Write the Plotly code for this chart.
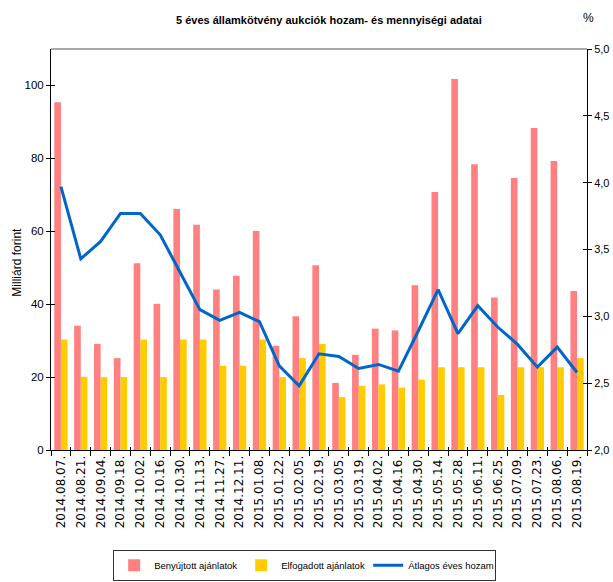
import plotly.graph_objects as go

dates = ["2014.08.07.", "2014.08.21.", "2014.09.04.", "2014.09.18.", "2014.10.02.",
         "2014.10.16.", "2014.10.30.", "2014.11.13.", "2014.11.27.", "2014.12.11.",
         "2015.01.08.", "2015.01.22.", "2015.02.05.", "2015.02.19.", "2015.03.05.",
         "2015.03.19.", "2015.04.02.", "2015.04.16.", "2015.04.30.", "2015.05.14.",
         "2015.05.28.", "2015.06.11.", "2015.06.25.", "2015.07.09.", "2015.07.23.",
         "2015.08.06.", "2015.08.19."]

benyujtott = [95.4, 34.1, 29.1, 25.2, 51.2, 40.1, 66.1, 61.8, 44.0, 47.8,
              60.1, 28.6, 36.7, 50.7, 18.4, 26.1, 33.3, 32.8, 45.2, 70.8,
              101.8, 78.4, 41.8, 74.6, 88.3, 79.3, 43.6]

elfogadott = [30.3, 20.1, 20.0, 20.0, 30.3, 20.0, 30.3, 30.3, 23.1, 23.1,
              30.3, 20.0, 25.2, 29.1, 14.5, 17.6, 18.0, 17.1, 19.3, 22.7,
              22.7, 22.7, 15.1, 22.7, 22.7, 22.7, 25.2]

hozam = [3.97, 3.43, 3.56, 3.77, 3.77, 3.61, 3.33, 3.05, 2.97, 3.03,
         2.96, 2.63, 2.48, 2.72, 2.70, 2.61, 2.64, 2.59, 2.89, 3.20,
         2.87, 3.08, 2.92, 2.79, 2.62, 2.77, 2.58]

regular = "Liberation Sans, Arial, sans-serif"
blank = [None] * len(dates)

fig = go.Figure()
fig.add_trace(go.Bar(x=dates, y=benyujtott, name="Benyújtott ajánlatok",
                     marker=dict(color="#FF8080", line=dict(width=0))))
fig.add_trace(go.Bar(x=dates, y=elfogadott, name="Elfogadott ajánlatok",
                     marker=dict(color="#FFCC00", line=dict(width=0))))
fig.add_trace(go.Scatter(x=dates, y=hozam, name="Átlagos éves hozam", yaxis="y2",
                         mode="lines", line=dict(color="#0066CC", width=3)))
# invisible helpers so that the inner half of the crossing ticks is drawn
fig.add_trace(go.Scatter(x=dates, y=blank, xaxis="x2", yaxis="y3", showlegend=False,
                         hoverinfo="skip", mode="lines"))
fig.add_trace(go.Scatter(x=dates, y=blank, xaxis="x2", yaxis="y4", showlegend=False,
                         hoverinfo="skip", mode="lines"))

fig.update_layout(
    width=613, height=582,
    margin=dict(l=51, r=26, t=49, b=132, autoexpand=False),
    paper_bgcolor="white", plot_bgcolor="white",
    separators=", ",
    barmode="group", bargap=0.33, bargroupgap=0,
    showlegend=True,
    legend=dict(orientation="h", x=0.116, y=-0.249, xanchor="left", yanchor="top",
                bordercolor="#333333", borderwidth=1, bgcolor="white",
                font=dict(family=regular, size=9.5, color="#000000"),
                entrywidth=82, entrywidthmode="pixels", traceorder="normal"),
    xaxis=dict(type="category", showline=True, linecolor="black", linewidth=1,
               ticks="outside", ticklen=5, tickcolor="black", tickson="boundaries",
               tickangle=-90, automargin=False,
               tickfont=dict(family="DejaVu Sans, sans-serif", size=12, color="#000000"),
               showgrid=False, zeroline=False),
    xaxis2=dict(type="category", overlaying="x", anchor="y", side="bottom",
                categoryorder="array", categoryarray=dates, range=[-0.5, len(dates) - 0.5],
                ticks="inside", ticklen=3, tickcolor="black", tickson="boundaries",
                showticklabels=False, showline=False, showgrid=False, zeroline=False,
                automargin=False),
    yaxis=dict(range=[0, 110], dtick=20, showline=True, linecolor="black", linewidth=1,
               ticks="outside", ticklen=4, tickcolor="black", showgrid=False, zeroline=False,
               automargin=False,
               tickfont=dict(family=regular, size=11.5, color="#000000")),
    yaxis2=dict(range=[2, 5], dtick=0.5, tickformat=".1f", overlaying="y", side="right",
                showline=True, linecolor="black", linewidth=1, ticks="outside", ticklen=4,
                tickcolor="black", showgrid=False, zeroline=False, automargin=False,
                tickfont=dict(family=regular, size=11, color="#000000")),
    yaxis3=dict(range=[0, 110], dtick=20, overlaying="y", side="left", anchor="x2",
                ticks="inside", ticklen=4, tickcolor="black", showticklabels=False,
                showline=False, showgrid=False, zeroline=False, automargin=False),
    yaxis4=dict(range=[2, 5], dtick=0.5, overlaying="y", side="right", anchor="x2",
                ticks="inside", ticklen=4, tickcolor="black", showticklabels=False,
                showline=False, showgrid=False, zeroline=False, automargin=False),
    shapes=[dict(type="line", xref="paper", yref="paper", x0=0, x1=1, y0=1, y1=1,
                 line=dict(color="#555555", width=1))],
    annotations=[
        dict(text="<b>5 éves államkötvény aukciók hozam- és mennyiségi adatai</b>",
             xref="paper", yref="paper", x=0.519, y=1.073, xanchor="center", yanchor="middle",
             showarrow=False, font=dict(family=regular, size=11, color="#000000")),
        dict(text="%", xref="paper", yref="paper", x=1.002, y=1.078, xanchor="center",
             yanchor="middle", showarrow=False, font=dict(family=regular, size=12, color="#000000")),
        dict(text="Milliárd forint", xref="paper", yref="paper", x=-0.064, y=0.469,
             xanchor="center", yanchor="middle", textangle=-90, showarrow=False,
             font=dict(family=regular, size=12, color="#000000")),
    ],
)

fig.write_html("out.html", config={"displayModeBar": False},
               post_script="document.body.style.margin='0';document.body.style.overflow='hidden';")
